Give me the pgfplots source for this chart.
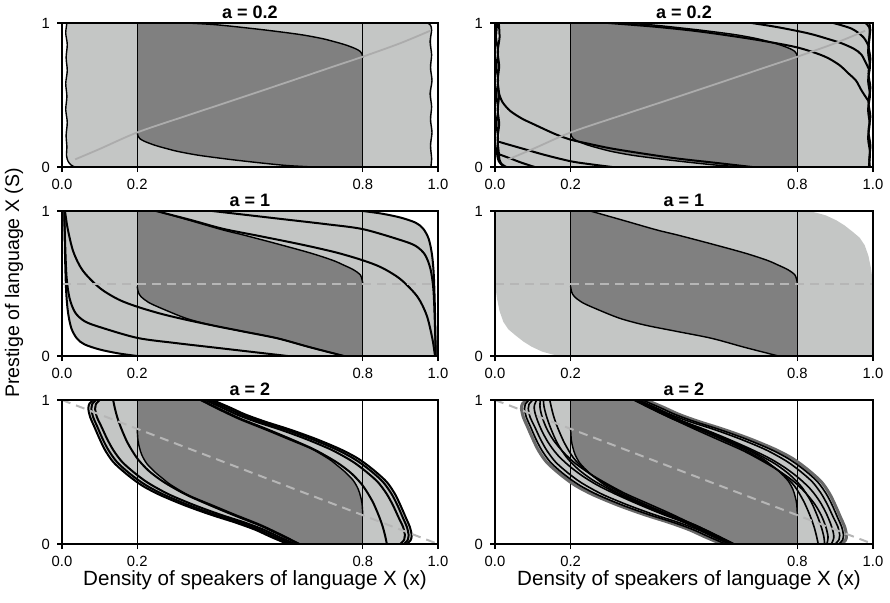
\documentclass[border=0pt]{standalone}
\usepackage{pgfplots}
\pgfplotsset{compat=1.18}
\usepackage{fontspec}
\setmainfont{Liberation Sans}
\definecolor{lg}{RGB}{196,198,197}
\definecolor{dg}{RGB}{128,128,128}
\definecolor{gl}{RGB}{172,172,172}
\definecolor{dl}{RGB}{182,182,182}
\definecolor{bg}{RGB}{105,105,105}
\pgfplotsset{
 panel/.style={scale only axis, anchor=south west, xmin=0, xmax=1, ymin=0, ymax=1,
   axis on top, axis line style={line width=0.6pt},
   xtick={0,0.2,0.8,1}, xticklabels={0.0,0.2,0.8,1.0}, ytick={0,1}, yticklabels={0,1},
   tick align=outside, xtick pos=bottom, ytick pos=left, major tick length=2.5pt,
   tick style={black, line width=0.6pt},
   tick label style={font=\fontsize{7.4}{8.5}\selectfont}},
 traj/.style={black, line width=1pt, smooth, tension=0.5},
 bnd/.style={black, line width=0.7pt, smooth, tension=0.5},
 vl/.style={black, line width=0.6pt},
 lfill/.style={fill=lg, draw=none},
 dfill/.style={fill=dg, draw=none},
 dsh/.style={dl, line width=1pt, dash pattern=on 4.5pt off 3pt},
}
\tikzset{ttl/.style={anchor=base, font=\bfseries\fontsize{9}{10}\selectfont}}
\begin{document}
\begin{tikzpicture}
\path[use as bounding box] (0,0) rectangle (445pt,301pt);

% ---------------- Row 1 left
\begin{axis}[panel, name=p11, at={(31pt,217.5pt)}, width=188pt, height=72pt]
\addplot[lfill] coordinates {(0.013,1)(0.972,1)(0.983,0.97)(0.983,0)(0.034,0)(0.016,0.04)(0.012,0.08)} -- cycle;
\addplot[dfill] coordinates {(0.2,1)(0.332,1)(0.4,0.99)(0.456,0.976)(0.545,0.95)(0.633,0.92)(0.69,0.893)(0.722,0.872)(0.748,0.853)(0.766,0.837)(0.782,0.82)(0.793,0.803)(0.798,0.785)(0.8,0.757)(0.8,0)(0.668,0)(0.6,0.01)(0.544,0.024)(0.455,0.05)(0.367,0.08)(0.31,0.107)(0.278,0.128)(0.252,0.147)(0.234,0.163)(0.218,0.18)(0.207,0.197)(0.202,0.215)(0.2,0.243)} -- cycle;
\addplot[bnd] coordinates {(0.332,1)(0.4,0.99)(0.456,0.976)(0.545,0.95)(0.633,0.92)(0.69,0.893)(0.722,0.872)(0.748,0.853)(0.766,0.837)(0.782,0.82)(0.793,0.803)(0.798,0.785)(0.8,0.757)};
\addplot[bnd] coordinates {(0.2,0.243)(0.202,0.215)(0.207,0.197)(0.218,0.18)(0.234,0.163)(0.252,0.147)(0.278,0.128)(0.31,0.107)(0.367,0.08)(0.455,0.05)(0.544,0.024)(0.6,0.01)(0.668,0)};
\addplot[vl] coordinates {(0.2,0)(0.2,1)};
\addplot[vl] coordinates {(0.8,0)(0.8,1)};
\addplot[bnd] coordinates {(0.013,1)(0.01,0.93)(0.014,0.85)(0.011,0.76)(0.014,0.67)(0.01,0.58)(0.013,0.49)(0.01,0.4)(0.014,0.31)(0.011,0.22)(0.013,0.14)(0.012,0.08)(0.016,0.04)(0.024,0.014)(0.034,0)};
\addplot[bnd] coordinates {(0.972,1)(0.98,0.985)(0.983,0.95)(0.979,0.87)(0.983,0.78)(0.98,0.69)(0.984,0.6)(0.979,0.51)(0.983,0.42)(0.98,0.33)(0.984,0.24)(0.98,0.15)(0.983,0.06)(0.981,0)};
\addplot[gl, line width=0.9pt, smooth] coordinates {(0.035,0.053)(0.1,0.125)(0.2,0.24)(0.33,0.355)(0.455,0.463)(0.6,0.59)(0.72,0.696)(0.8,0.766)(0.9,0.86)(0.979,0.946)};
\end{axis}

% ---------------- Row 1 right
\begin{axis}[panel, name=p12, at={(247.5pt,217.5pt)}, width=189pt, height=72pt]
\addplot[lfill] coordinates {(0.01,1)(0.985,1)(0.99,0.97)(0.99,0)(0.03,0)(0.012,0.04)} -- cycle;
\addplot[dfill] coordinates {(0.2,1)(0.332,1)(0.4,0.99)(0.456,0.976)(0.545,0.95)(0.633,0.92)(0.69,0.893)(0.722,0.872)(0.748,0.853)(0.766,0.837)(0.782,0.82)(0.793,0.803)(0.798,0.785)(0.8,0.757)(0.8,0)(0.668,0)(0.6,0.01)(0.544,0.024)(0.455,0.05)(0.367,0.08)(0.31,0.107)(0.278,0.128)(0.252,0.147)(0.234,0.163)(0.218,0.18)(0.207,0.197)(0.202,0.215)(0.2,0.243)} -- cycle;
\addplot[bnd] coordinates {(0.332,1)(0.4,0.99)(0.456,0.976)(0.545,0.95)(0.633,0.92)(0.69,0.893)(0.722,0.872)(0.748,0.853)(0.766,0.837)(0.782,0.82)(0.793,0.803)(0.798,0.785)(0.8,0.757)};
\addplot[bnd] coordinates {(0.2,0.243)(0.202,0.215)(0.207,0.197)(0.218,0.18)(0.234,0.163)(0.252,0.147)(0.278,0.128)(0.31,0.107)(0.367,0.08)(0.455,0.05)(0.544,0.024)(0.6,0.01)(0.668,0)};
\addplot[vl] coordinates {(0.2,0)(0.2,1)};
\addplot[vl] coordinates {(0.8,0)(0.8,1)};
\addplot[traj] coordinates {(0.009,0.52)(0.02,0.45)(0.04,0.39)(0.07,0.338)(0.1,0.3)(0.158,0.23)(0.2,0.19)(0.25,0.16)(0.309,0.128)(0.4,0.09)(0.485,0.058)(0.58,0.03)(0.68,0)};
\addplot[traj] coordinates {(0.009,0.176)(0.03,0.16)(0.07,0.13)(0.13,0.085)(0.2,0.04)(0.25,0.02)(0.31,0)};
\addplot[traj] coordinates {(0.009,0.09)(0.04,0.06)(0.07,0.03)(0.105,0)};
\addplot[traj] coordinates {(0.3,1)(0.42,0.975)(0.52,0.948)(0.6,0.92)(0.7,0.88)(0.8,0.83)(0.87,0.77)(0.91,0.71)(0.935,0.65)(0.955,0.6)(0.97,0.53)(0.99,0.45)};
\addplot[traj] coordinates {(0.679,1)(0.75,0.97)(0.829,0.928)(0.88,0.89)(0.917,0.859)(0.95,0.82)(0.97,0.778)(0.988,0.685)};
\addplot[traj] coordinates {(0.895,1)(0.944,0.96)(0.975,0.9)(0.99,0.83)};
\addplot[traj] coordinates {(0.006,1)(0.003,0.9)(0.008,0.8)(0.004,0.7)(0.008,0.6)(0.004,0.5)(0.008,0.4)(0.004,0.3)(0.008,0.2)(0.005,0.1)(0.01,0.04)(0.02,0.01)(0.028,0)};
\addplot[traj] coordinates {(0.01,1)(0.012,0.9)(0.007,0.8)(0.011,0.7)(0.007,0.6)(0.011,0.5)(0.007,0.4)(0.011,0.3)(0.007,0.2)(0.01,0.1)(0.012,0.05)(0.018,0.02)(0.03,0)};
\addplot[traj] coordinates {(0.98,1)(0.99,0.97)(0.991,0.9)(0.987,0.8)(0.992,0.7)(0.987,0.6)(0.992,0.5)(0.987,0.4)(0.991,0.3)(0.987,0.2)(0.992,0.1)(0.989,0)};
\addplot[traj] coordinates {(0.99,1)(0.993,0.95)(0.988,0.85)(0.993,0.75)(0.988,0.65)(0.993,0.55)(0.988,0.45)(0.993,0.35)(0.988,0.25)(0.993,0.15)(0.99,0.05)(0.992,0)};
\addplot[gl, line width=0.9pt, smooth] coordinates {(0.035,0.053)(0.1,0.125)(0.2,0.24)(0.33,0.355)(0.455,0.463)(0.6,0.59)(0.72,0.696)(0.8,0.766)(0.9,0.86)(0.979,0.946)};
\end{axis}

% ---------------- Row 2 left
\begin{axis}[panel, name=p21, at={(31pt,123pt)}, width=188pt, height=72.5pt]
\addplot[lfill] coordinates {(0.005,1)(0.8,1)(0.85,0.982)(0.9,0.955)(0.94,0.92)(0.96,0.88)(0.975,0.81)(0.984,0.7)(0.989,0.55)(0.992,0.3)(0.994,0)(0.2,0)(0.15,0.018)(0.1,0.045)(0.06,0.08)(0.04,0.12)(0.025,0.19)(0.016,0.3)(0.011,0.45)(0.008,0.7)} -- cycle;
\addplot[dfill] coordinates {(0.2,1)(0.252,1)(0.34,0.935)(0.427,0.87)(0.485,0.833)(0.57,0.775)(0.661,0.71)(0.72,0.66)(0.75,0.626)(0.775,0.595)(0.794,0.557)(0.8,0.5)(0.8,0)(0.75,0)(0.66,0.06)(0.573,0.122)(0.48,0.17)(0.397,0.213)(0.33,0.26)(0.265,0.328)(0.23,0.37)(0.21,0.41)(0.203,0.44)(0.2,0.48)} -- cycle;
\addplot[bnd] coordinates {(0.252,1)(0.34,0.935)(0.427,0.87)(0.485,0.833)(0.57,0.775)(0.661,0.71)(0.72,0.66)(0.75,0.626)(0.775,0.595)(0.794,0.557)(0.8,0.5)};
\addplot[bnd] coordinates {(0.2,0.48)(0.203,0.44)(0.21,0.41)(0.23,0.37)(0.265,0.328)(0.33,0.26)(0.397,0.213)(0.48,0.17)(0.573,0.122)(0.66,0.06)(0.75,0)};
\addplot[vl] coordinates {(0.2,0)(0.2,1)};
\addplot[vl] coordinates {(0.8,0)(0.8,1)};
\addplot[traj] coordinates {(0.006,1)(0.008,0.7)(0.011,0.45)(0.016,0.3)(0.025,0.19)(0.04,0.12)(0.06,0.08)(0.1,0.045)(0.15,0.018)(0.2,0)};
\addplot[traj] coordinates {(0.006,1)(0.008,0.8)(0.012,0.55)(0.02,0.4)(0.035,0.3)(0.06,0.24)(0.1,0.2)(0.2,0.125)(0.3,0.09)(0.4,0.06)(0.5,0.03)(0.6,0)};
\addplot[traj] coordinates {(0.008,1)(0.015,0.88)(0.03,0.72)(0.055,0.59)(0.1,0.47)(0.15,0.39)(0.2,0.34)(0.265,0.29)(0.33,0.25)(0.397,0.213)(0.48,0.17)(0.573,0.122)(0.66,0.06)(0.75,0)};
\addplot[traj] coordinates {(0.8,1)(0.85,0.982)(0.9,0.955)(0.94,0.92)(0.96,0.88)(0.975,0.81)(0.984,0.7)(0.989,0.55)(0.992,0.3)(0.994,0)};
\addplot[traj] coordinates {(0.4,1)(0.5,0.97)(0.6,0.94)(0.7,0.91)(0.8,0.875)(0.9,0.8)(0.94,0.76)(0.965,0.7)(0.98,0.6)(0.988,0.45)(0.992,0.2)(0.994,0)};
\addplot[traj] coordinates {(0.25,1)(0.34,0.94)(0.427,0.878)(0.52,0.83)(0.603,0.787)(0.67,0.75)(0.735,0.71)(0.8,0.66)(0.85,0.61)(0.9,0.53)(0.945,0.41)(0.97,0.28)(0.985,0.12)(0.992,0)};
\addplot[dsh] coordinates {(0,0.5)(1,0.5)};
\end{axis}

% ---------------- Row 2 right
\begin{axis}[panel, name=p22, at={(247.5pt,123pt)}, width=189pt, height=72.5pt]
\addplot[lfill] coordinates {(0,0.5)(0,1)(0.83,1)(0.85,0.988)(0.875,0.97)(0.903,0.936)(0.925,0.9)(0.947,0.855)(0.965,0.815)(0.978,0.764)(0.988,0.69)(0.995,0.6)(1,0.5)(1,0)(0.17,0)(0.15,0.012)(0.125,0.03)(0.097,0.064)(0.075,0.1)(0.053,0.145)(0.035,0.185)(0.022,0.236)(0.012,0.31)(0.005,0.4)} -- cycle;
\addplot[dfill] coordinates {(0.2,1)(0.252,1)(0.34,0.935)(0.427,0.87)(0.485,0.833)(0.57,0.775)(0.661,0.71)(0.72,0.66)(0.75,0.626)(0.775,0.595)(0.794,0.557)(0.8,0.5)(0.8,0)(0.75,0)(0.66,0.06)(0.573,0.122)(0.48,0.17)(0.397,0.213)(0.33,0.26)(0.265,0.328)(0.23,0.37)(0.21,0.41)(0.203,0.44)(0.2,0.48)} -- cycle;
\addplot[bnd] coordinates {(0.252,1)(0.34,0.935)(0.427,0.87)(0.485,0.833)(0.57,0.775)(0.661,0.71)(0.72,0.66)(0.75,0.626)(0.775,0.595)(0.794,0.557)(0.8,0.5)};
\addplot[bnd] coordinates {(0.2,0.48)(0.203,0.44)(0.21,0.41)(0.23,0.37)(0.265,0.328)(0.33,0.26)(0.397,0.213)(0.48,0.17)(0.573,0.122)(0.66,0.06)(0.75,0)};
\addplot[vl] coordinates {(0.2,0)(0.2,1)};
\addplot[vl] coordinates {(0.8,0)(0.8,1)};
\addplot[dsh] coordinates {(0,0.5)(1,0.5)};
\end{axis}

% ---------------- Row 3 left
\begin{axis}[panel, name=p31, at={(31pt,29pt)}, width=188pt, height=72pt]
\addplot[lfill] coordinates {(0.083,1)(0.073,0.975)(0.07,0.94)(0.075,0.88)(0.085,0.82)(0.1,0.73)(0.115,0.65)(0.136,0.57)(0.165,0.5)(0.194,0.44)(0.22,0.395)(0.261,0.34)(0.325,0.27)(0.394,0.205)(0.46,0.15)(0.513,0.1)(0.555,0.05)(0.6,0)(0.917,0)(0.927,0.025)(0.93,0.06)(0.925,0.12)(0.915,0.18)(0.9,0.27)(0.885,0.35)(0.864,0.43)(0.835,0.5)(0.806,0.56)(0.78,0.605)(0.739,0.66)(0.675,0.73)(0.606,0.795)(0.54,0.85)(0.487,0.9)(0.445,0.95)(0.4,1)} -- cycle;
\addplot[dfill] coordinates {(0.2,1)(0.367,1)(0.42,0.93)(0.473,0.865)(0.54,0.795)(0.6,0.73)(0.664,0.66)(0.71,0.59)(0.73,0.55)(0.753,0.5)(0.775,0.44)(0.788,0.38)(0.794,0.33)(0.798,0.28)(0.8,0.2)(0.8,0)(0.633,0)(0.58,0.07)(0.527,0.135)(0.46,0.205)(0.4,0.27)(0.336,0.34)(0.29,0.41)(0.27,0.45)(0.247,0.5)(0.225,0.56)(0.212,0.62)(0.206,0.67)(0.202,0.72)(0.2,0.8)} -- cycle;
\addplot[vl] coordinates {(0.2,0)(0.2,1)};
\addplot[vl] coordinates {(0.8,0)(0.8,1)};
\addplot[bnd] coordinates {(0.2,0.8)(0.202,0.72)(0.206,0.67)(0.212,0.62)(0.225,0.56)(0.247,0.5)(0.27,0.45)(0.29,0.41)(0.336,0.34)(0.4,0.27)(0.46,0.205)(0.527,0.135)(0.58,0.07)(0.633,0)};
\addplot[bnd] coordinates {(0.8,0.2)(0.798,0.28)(0.794,0.33)(0.788,0.38)(0.775,0.44)(0.753,0.5)(0.73,0.55)(0.71,0.59)(0.664,0.66)(0.6,0.73)(0.54,0.795)(0.473,0.865)(0.42,0.93)(0.367,1)};
\addplot[traj] coordinates {(0.083,1)(0.073,0.975)(0.07,0.94)(0.075,0.88)(0.085,0.82)(0.1,0.73)(0.115,0.65)(0.136,0.57)(0.165,0.5)(0.194,0.44)(0.22,0.395)(0.261,0.34)(0.325,0.27)(0.394,0.205)(0.46,0.15)(0.513,0.1)(0.555,0.05)(0.6,0)};
\addplot[traj] coordinates {(0.09,1)(0.08,0.97)(0.078,0.94)(0.083,0.88)(0.093,0.82)(0.108,0.73)(0.124,0.65)(0.146,0.57)(0.175,0.5)(0.205,0.44)(0.232,0.395)(0.273,0.34)(0.337,0.27)(0.406,0.205)(0.472,0.15)(0.524,0.1)(0.566,0.05)(0.61,0)};
\addplot[traj] coordinates {(0.1,1)(0.09,0.97)(0.088,0.94)(0.093,0.88)(0.104,0.82)(0.12,0.73)(0.137,0.65)(0.16,0.57)(0.19,0.5)(0.22,0.44)(0.248,0.395)(0.288,0.34)(0.352,0.27)(0.42,0.205)(0.485,0.15)(0.536,0.1)(0.577,0.05)(0.62,0)};
\addplot[traj] coordinates {(0.136,1)(0.14,0.95)(0.147,0.88)(0.158,0.8)(0.175,0.7)(0.2,0.595)(0.23,0.51)(0.265,0.44)(0.3,0.385)(0.336,0.335)(0.4,0.262)(0.46,0.197)(0.527,0.128)(0.58,0.063)(0.63,0)};
\addplot[traj] coordinates {(0.917,0)(0.927,0.025)(0.93,0.06)(0.925,0.12)(0.915,0.18)(0.9,0.27)(0.885,0.35)(0.864,0.43)(0.835,0.5)(0.806,0.56)(0.78,0.605)(0.739,0.66)(0.675,0.73)(0.606,0.795)(0.54,0.85)(0.487,0.9)(0.445,0.95)(0.4,1)};
\addplot[traj] coordinates {(0.91,0)(0.92,0.03)(0.922,0.06)(0.917,0.12)(0.907,0.18)(0.892,0.27)(0.876,0.35)(0.854,0.43)(0.825,0.5)(0.795,0.56)(0.768,0.605)(0.727,0.66)(0.663,0.73)(0.594,0.795)(0.528,0.85)(0.476,0.9)(0.434,0.95)(0.39,1)};
\addplot[traj] coordinates {(0.9,0)(0.91,0.03)(0.912,0.06)(0.907,0.12)(0.896,0.18)(0.88,0.27)(0.863,0.35)(0.84,0.43)(0.81,0.5)(0.78,0.56)(0.752,0.605)(0.712,0.66)(0.648,0.73)(0.58,0.795)(0.515,0.85)(0.464,0.9)(0.423,0.95)(0.38,1)};
\addplot[traj] coordinates {(0.864,0)(0.86,0.05)(0.853,0.12)(0.842,0.2)(0.825,0.3)(0.8,0.405)(0.77,0.49)(0.735,0.56)(0.7,0.615)(0.664,0.665)(0.6,0.738)(0.54,0.803)(0.473,0.872)(0.42,0.937)(0.37,1)};
\addplot[dsh] coordinates {(0,1)(1,0)};
\end{axis}

% ---------------- Row 3 right
\begin{axis}[panel, name=p32, at={(247.5pt,29pt)}, width=189pt, height=72pt]
\addplot[lfill] coordinates {(0.083,1)(0.073,0.975)(0.07,0.94)(0.075,0.88)(0.085,0.82)(0.1,0.73)(0.115,0.65)(0.136,0.57)(0.165,0.5)(0.194,0.44)(0.22,0.395)(0.261,0.34)(0.325,0.27)(0.394,0.205)(0.46,0.15)(0.513,0.1)(0.555,0.05)(0.6,0)(0.917,0)(0.927,0.025)(0.93,0.06)(0.925,0.12)(0.915,0.18)(0.9,0.27)(0.885,0.35)(0.864,0.43)(0.835,0.5)(0.806,0.56)(0.78,0.605)(0.739,0.66)(0.675,0.73)(0.606,0.795)(0.54,0.85)(0.487,0.9)(0.445,0.95)(0.4,1)} -- cycle;
\addplot[dfill] coordinates {(0.2,1)(0.367,1)(0.42,0.93)(0.473,0.865)(0.54,0.795)(0.6,0.73)(0.664,0.66)(0.71,0.59)(0.73,0.55)(0.753,0.5)(0.775,0.44)(0.788,0.38)(0.794,0.33)(0.798,0.28)(0.8,0.2)(0.8,0)(0.633,0)(0.58,0.07)(0.527,0.135)(0.46,0.205)(0.4,0.27)(0.336,0.34)(0.29,0.41)(0.27,0.45)(0.247,0.5)(0.225,0.56)(0.212,0.62)(0.206,0.67)(0.202,0.72)(0.2,0.8)} -- cycle;
\addplot[vl] coordinates {(0.2,0)(0.2,1)};
\addplot[vl] coordinates {(0.8,0)(0.8,1)};
\addplot[bg, line width=1.5pt, smooth, tension=0.5] coordinates {(0.083,1)(0.073,0.975)(0.07,0.94)(0.075,0.88)(0.085,0.82)(0.1,0.73)(0.115,0.65)(0.136,0.57)(0.165,0.5)(0.194,0.44)(0.22,0.395)(0.261,0.34)(0.325,0.27)(0.394,0.205)(0.46,0.15)(0.513,0.1)(0.555,0.05)(0.6,0)};
\addplot[bg, line width=1.5pt, smooth, tension=0.5] coordinates {(0.917,0)(0.927,0.025)(0.93,0.06)(0.925,0.12)(0.915,0.18)(0.9,0.27)(0.885,0.35)(0.864,0.43)(0.835,0.5)(0.806,0.56)(0.78,0.605)(0.739,0.66)(0.675,0.73)(0.606,0.795)(0.54,0.85)(0.487,0.9)(0.445,0.95)(0.4,1)};
\addplot[bnd] coordinates {(0.2,0.8)(0.202,0.72)(0.206,0.67)(0.212,0.62)(0.225,0.56)(0.247,0.5)(0.27,0.45)(0.29,0.41)(0.336,0.34)(0.4,0.27)(0.46,0.205)(0.527,0.135)(0.58,0.07)(0.633,0)};
\addplot[bnd] coordinates {(0.8,0.2)(0.798,0.28)(0.794,0.33)(0.788,0.38)(0.775,0.44)(0.753,0.5)(0.73,0.55)(0.71,0.59)(0.664,0.66)(0.6,0.73)(0.54,0.795)(0.473,0.865)(0.42,0.93)(0.367,1)};
\addplot[traj, line width=0.8pt] coordinates {(0.09,1)(0.08,0.97)(0.078,0.94)(0.083,0.88)(0.093,0.82)(0.108,0.73)(0.124,0.65)(0.146,0.57)(0.175,0.5)(0.205,0.44)(0.232,0.395)(0.273,0.34)(0.337,0.27)(0.406,0.205)(0.472,0.15)(0.524,0.1)(0.566,0.05)(0.61,0)};
\addplot[traj, line width=0.8pt] coordinates {(0.1,1)(0.09,0.97)(0.088,0.94)(0.093,0.88)(0.104,0.82)(0.12,0.73)(0.137,0.65)(0.16,0.57)(0.19,0.5)(0.22,0.44)(0.248,0.395)(0.288,0.34)(0.352,0.27)(0.42,0.205)(0.485,0.15)(0.536,0.1)(0.577,0.05)(0.62,0)};
\addplot[traj, line width=0.8pt] coordinates {(0.11,1)(0.104,0.96)(0.105,0.92)(0.112,0.86)(0.125,0.78)(0.142,0.7)(0.165,0.62)(0.195,0.545)(0.23,0.475)(0.27,0.41)(0.32,0.345)(0.38,0.275)(0.44,0.21)(0.5,0.15)(0.55,0.09)(0.59,0.04)(0.62,0)};
\addplot[traj, line width=0.8pt] coordinates {(0.12,1)(0.119,0.95)(0.125,0.88)(0.137,0.8)(0.155,0.72)(0.18,0.64)(0.21,0.565)(0.25,0.49)(0.295,0.42)(0.345,0.35)(0.405,0.28)(0.465,0.21)(0.52,0.14)(0.57,0.07)(0.622,0)};
\addplot[traj, line width=0.8pt] coordinates {(0.128,1)(0.13,0.95)(0.137,0.88)(0.148,0.8)(0.165,0.7)(0.19,0.6)(0.222,0.515)(0.258,0.445)(0.295,0.39)(0.333,0.338)(0.398,0.264)(0.458,0.199)(0.525,0.13)(0.578,0.064)(0.627,0)};
\addplot[traj, line width=0.8pt] coordinates {(0.145,1)(0.149,0.95)(0.156,0.88)(0.167,0.8)(0.184,0.7)(0.207,0.6)(0.236,0.52)(0.27,0.452)(0.305,0.398)(0.34,0.345)(0.402,0.27)(0.461,0.203)(0.528,0.133)(0.58,0.067)(0.632,0)};
\addplot[traj, line width=0.8pt] coordinates {(0.91,0)(0.92,0.03)(0.922,0.06)(0.917,0.12)(0.907,0.18)(0.892,0.27)(0.876,0.35)(0.854,0.43)(0.825,0.5)(0.795,0.56)(0.768,0.605)(0.727,0.66)(0.663,0.73)(0.594,0.795)(0.528,0.85)(0.476,0.9)(0.434,0.95)(0.39,1)};
\addplot[traj, line width=0.8pt] coordinates {(0.9,0)(0.91,0.03)(0.912,0.06)(0.907,0.12)(0.896,0.18)(0.88,0.27)(0.863,0.35)(0.84,0.43)(0.81,0.5)(0.78,0.56)(0.752,0.605)(0.712,0.66)(0.648,0.73)(0.58,0.795)(0.515,0.85)(0.464,0.9)(0.423,0.95)(0.38,1)};
\addplot[traj, line width=0.8pt] coordinates {(0.89,0)(0.896,0.04)(0.895,0.08)(0.888,0.14)(0.875,0.22)(0.858,0.3)(0.835,0.38)(0.805,0.455)(0.77,0.525)(0.73,0.59)(0.68,0.655)(0.62,0.725)(0.56,0.79)(0.5,0.85)(0.45,0.91)(0.41,0.96)(0.38,1)};
\addplot[traj, line width=0.8pt] coordinates {(0.878,0)(0.881,0.05)(0.875,0.12)(0.863,0.2)(0.845,0.28)(0.82,0.36)(0.79,0.435)(0.75,0.51)(0.705,0.58)(0.655,0.65)(0.595,0.72)(0.535,0.79)(0.478,0.86)(0.428,0.93)(0.378,1)};
\addplot[traj, line width=0.8pt] coordinates {(0.872,0)(0.87,0.05)(0.863,0.12)(0.852,0.2)(0.835,0.3)(0.81,0.4)(0.778,0.485)(0.742,0.555)(0.705,0.61)(0.667,0.662)(0.602,0.736)(0.542,0.801)(0.475,0.87)(0.422,0.936)(0.373,1)};
\addplot[traj, line width=0.8pt] coordinates {(0.855,0)(0.851,0.05)(0.844,0.12)(0.833,0.2)(0.816,0.3)(0.793,0.4)(0.764,0.48)(0.73,0.548)(0.695,0.602)(0.66,0.655)(0.598,0.73)(0.539,0.797)(0.472,0.867)(0.42,0.933)(0.368,1)};
\addplot[dsh] coordinates {(0,1)(1,0)};
\end{axis}

\node[ttl] at ([yshift=2.4pt]p11.north) {a = 0.2};
\node[ttl] at ([yshift=2.4pt]p12.north) {a = 0.2};
\node[ttl] at ([yshift=2.2pt]p21.north) {a = 1};
\node[ttl] at ([yshift=2.2pt]p22.north) {a = 1};
\node[ttl] at ([yshift=2.4pt]p31.north) {a = 2};
\node[ttl] at ([yshift=2.4pt]p32.north) {a = 2};

\node[rotate=90, font=\fontsize{9.8}{11}\selectfont] at (7pt,159.5pt) {Prestige of language X (S)};
\node[anchor=base, font=\fontsize{10.3}{11}\selectfont] at (127.5pt,8.5pt) {Density of speakers of language X (x)};
\node[anchor=base, font=\fontsize{10.3}{11}\selectfont] at (344.5pt,8.5pt) {Density of speakers of language X (x)};
\end{tikzpicture}
\end{document}
